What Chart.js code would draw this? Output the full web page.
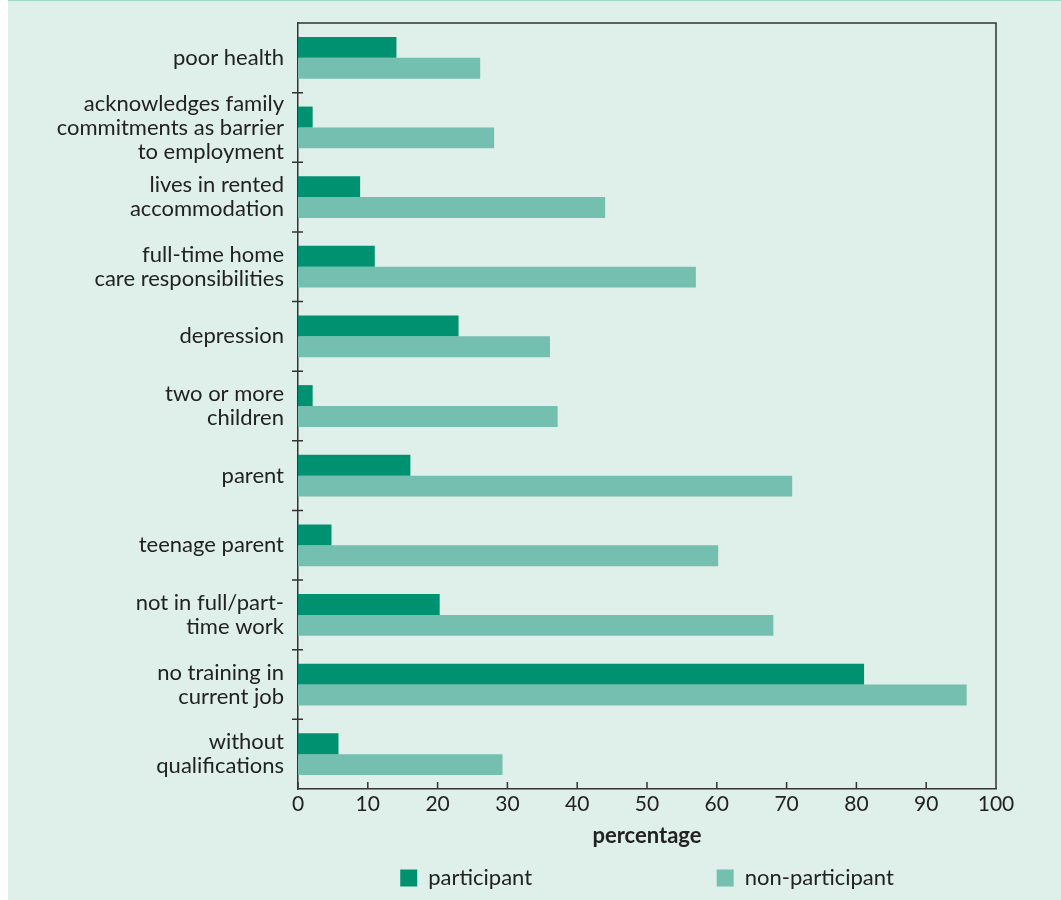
<!DOCTYPE html>
<html>
<head>
<meta charset="utf-8">
<script src="https://cdn.jsdelivr.net/npm/chart.js@4/dist/chart.umd.min.js"></script>
<style>
  html, body { margin: 0; padding: 0; background: #ffffff; }
  #panel { position: absolute; left: 8px; top: 0; width: 1053px; height: 899px; background: #dfefe9; border-top: 1px solid #9ed5c4; }
  #wrap { position: absolute; left: 0; top: 0; width: 1061px; height: 900px; }
</style>
</head>
<body>
<div id="panel"></div>
<div id="wrap"><canvas id="barrierChart" width="1061" height="900"></canvas></div>
<script>
const categories = [
  ["poor health"],
  ["acknowledges family", "commitments as barrier", "to employment"],
  ["lives in rented", "accommodation"],
  ["full-time home", "care responsibilities"],
  ["depression"],
  ["two or more", "children"],
  ["parent"],
  ["teenage parent"],
  ["not in full/part-", "time work"],
  ["no training in", "current job"],
  ["without", "qualifications"],
];
const participant = [14.1, 2.1, 8.9, 11.0, 23.0, 2.1, 16.1, 4.8, 20.3, 81.1, 5.8];
const nonParticipant = [26.1, 28.1, 44.0, 57.0, 36.1, 37.2, 70.8, 60.2, 68.1, 95.8, 29.3];
const xTicks = [0, 10, 20, 30, 40, 50, 60, 70, 80, 90, 100];

Chart.defaults.font.family = "Lato";
Chart.defaults.font.size = 22;
Chart.defaults.color = "#222";

const axisColor = "#333";

// top/right frame plus the short tick marks that sit inside the plot
const framePlugin = {
  id: "frame",
  afterDraw(chart) {
    const { ctx, chartArea: a, scales } = chart;
    const x = scales.x, y = scales.y;
    ctx.save();
    ctx.strokeStyle = axisColor;
    ctx.lineWidth = 1.5;
    ctx.beginPath();
    ctx.moveTo(a.left, a.top);
    ctx.lineTo(a.right, a.top);
    ctx.lineTo(a.right, a.bottom);
    x.ticks.forEach((t) => {
      const px = x.getPixelForValue(t.value);
      ctx.moveTo(px, a.bottom);
      ctx.lineTo(px, a.bottom - 7);
    });
    for (let i = 1; i < categories.length; i++) {
      const py = (y.getPixelForValue(i - 1) + y.getPixelForValue(i)) / 2;
      ctx.moveTo(a.left - 6, py);
      ctx.lineTo(a.left + 5, py);
    }
    ctx.stroke();
    ctx.restore();
  },
};

const barrierChart = new Chart(document.getElementById("barrierChart"), {
  type: "bar",
  data: {
    labels: categories,
    datasets: [
      {
        label: "participant",
        data: participant,
        backgroundColor: "#009270",
        borderWidth: 0,
      },
      {
        label: "non-participant",
        data: nonParticipant,
        backgroundColor: "#75bfb0",
        borderWidth: 0,
      },
    ],
  },
  options: {
    indexAxis: "y",
    responsive: false,
    animation: false,
    datasets: { bar: { categoryPercentage: 0.6, barPercentage: 1.0 } },
    layout: { padding: { top: 23, right: 65, bottom: 1, left: 0 } },
    scales: {
      x: {
        min: 0,
        max: 100,
        afterBuildTicks: (s) => { s.ticks = xTicks.map((v) => ({ value: v })); },
        afterFit: (s) => { s.height = 68; },
        grid: { display: false, drawTicks: false },
        border: { display: true, color: axisColor, width: 1.5 },
        ticks: { padding: 3, color: "#222", font: { size: 21, lineHeight: 1.15 } },
        title: {
          display: true,
          text: "percentage",
          color: "#222",
          font: { size: 22, weight: "bold", lineHeight: 1.1 },
          padding: { top: 8, bottom: 9 },
        },
      },
      y: {
        afterFit: (s) => { s.width = 298; s.paddingTop = 0; s.paddingBottom = 0; },
        grid: { display: false, drawTicks: false },
        border: { display: true, color: axisColor, width: 1.5 },
        ticks: {
          autoSkip: false,
          padding: 14,
          color: "#222",
          font: { size: 22, lineHeight: 24 / 22 },
        },
      },
    },
    plugins: {
      legend: {
        position: "bottom",
        fullSize: false,
        labels: {
          boxWidth: 17,
          boxHeight: 17,
          padding: 10,
          color: "#222",
          font: { size: 22, lineHeight: 1.1 },
          generateLabels(chart) {
            const items = Chart.defaults.plugins.legend.labels.generateLabels(chart);
            items[0].text = items[0].text + " ".repeat(31);
            return items;
          },
        },
      },
      tooltip: { enabled: false },
    },
  },
  plugins: [framePlugin],
});
</script>
</body>
</html>
